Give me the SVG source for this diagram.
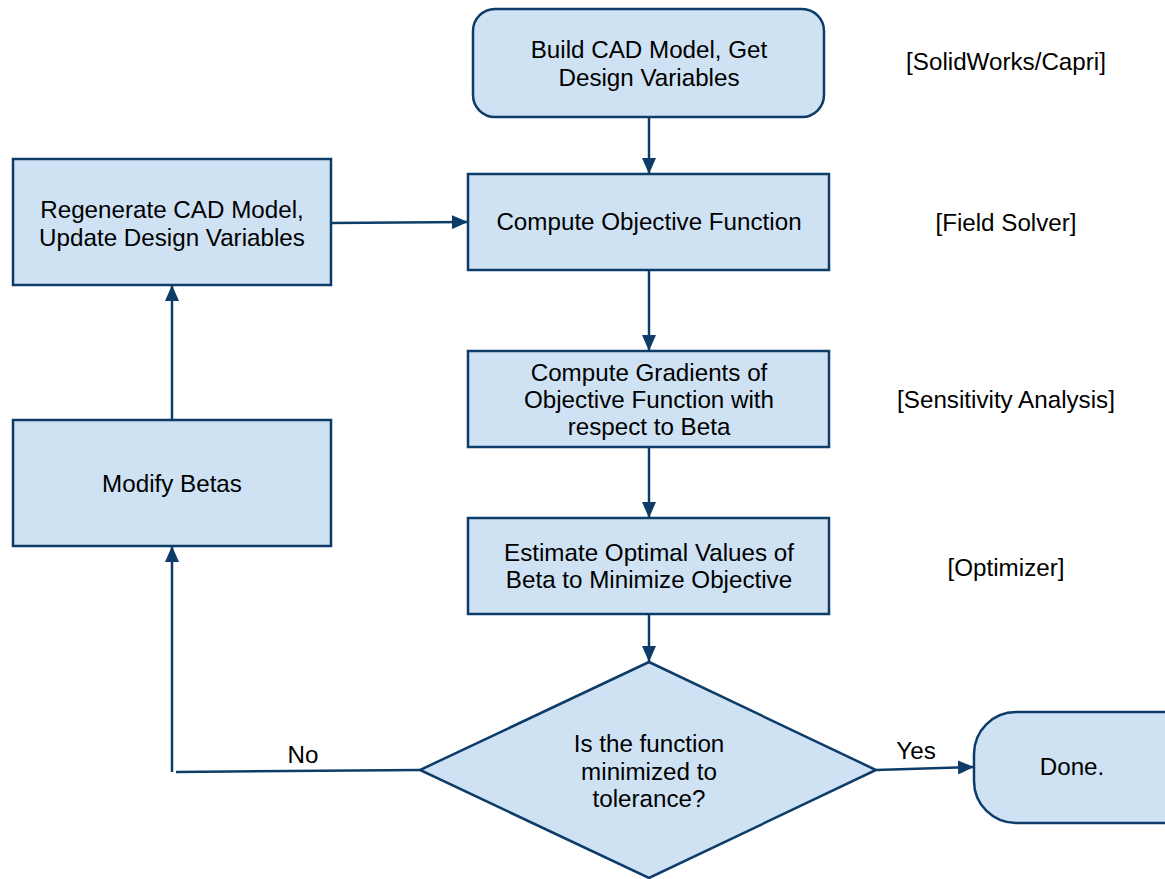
<svg xmlns="http://www.w3.org/2000/svg" width="1165" height="879" viewBox="0 0 1165 879">
<defs>
<style>
.n{fill:#cfe2f3;stroke:#0d3c68;stroke-width:2.5}
.c{fill:none;stroke:#0d3c68;stroke-width:2.5}
text{font-family:"Liberation Sans",Arial,sans-serif;font-size:24.2px;fill:#000;text-anchor:middle}
</style>
<marker id="a" markerUnits="userSpaceOnUse" markerWidth="16" markerHeight="14" refX="15" refY="7" orient="auto">
<path d="M0,0 L16,7 L0,14 Z" fill="#0d3c68"/>
</marker>
</defs>
<rect width="1165" height="879" fill="#fff"/>
<g id="connectors">
<line class="c" x1="649" y1="117" x2="649" y2="173" marker-end="url(#a)"/>
<line class="c" x1="649" y1="270" x2="649" y2="350" marker-end="url(#a)"/>
<line class="c" x1="649" y1="447" x2="649" y2="517" marker-end="url(#a)"/>
<line class="c" x1="649" y1="614" x2="649" y2="661" marker-end="url(#a)"/>
<line class="c" x1="331" y1="223" x2="467" y2="222" marker-end="url(#a)"/>
<line class="c" x1="172" y1="420" x2="172" y2="286" marker-end="url(#a)"/>
<line class="c" x1="420" y1="770" x2="176" y2="772"/>
<line class="c" x1="172" y1="772" x2="172" y2="547" marker-end="url(#a)"/>
<line class="c" x1="876" y1="770" x2="973" y2="767" marker-end="url(#a)"/>
<text x="303" y="763">No</text>
<text x="916" y="759">Yes</text>
</g>
<g id="build">
<rect class="n" x="473" y="9" width="351" height="108" rx="22"/>
<text x="649" y="58">Build CAD Model, Get</text>
<text x="649" y="86">Design Variables</text>
</g>
<g id="regen">
<rect class="n" x="13" y="159" width="318" height="126"/>
<text x="172" y="218">Regenerate CAD Model,</text>
<text x="172" y="246">Update Design Variables</text>
</g>
<g id="objective">
<rect class="n" x="468" y="174" width="361" height="96"/>
<text x="649" y="230">Compute Objective Function</text>
</g>
<g id="gradients">
<rect class="n" x="468" y="351" width="361" height="96"/>
<text x="649" y="381">Compute Gradients of</text>
<text x="649" y="408">Objective Function with</text>
<text x="649" y="435">respect to Beta</text>
</g>
<g id="modify">
<rect class="n" x="13" y="420" width="318" height="126"/>
<text x="172" y="492">Modify Betas</text>
</g>
<g id="estimate">
<rect class="n" x="468" y="518" width="361" height="96"/>
<text x="649" y="561">Estimate Optimal Values of</text>
<text x="649" y="588">Beta to Minimize Objective</text>
</g>
<g id="decision">
<polygon class="n" points="649,662 876,770 649,878 420,770"/>
<text x="649" y="752">Is the function</text>
<text x="649" y="780">minimized to</text>
<text x="649" y="807">tolerance?</text>
</g>
<g id="done">
<rect class="n" x="974" y="712" width="230" height="111" rx="42"/>
<text x="1072" y="775">Done.</text>
</g>
<g id="labels">
<text x="1006" y="70">[SolidWorks/Capri]</text>
<text x="1006" y="231">[Field Solver]</text>
<text x="1006" y="408">[Sensitivity Analysis]</text>
<text x="1006" y="576">[Optimizer]</text>
</g>
</svg>
